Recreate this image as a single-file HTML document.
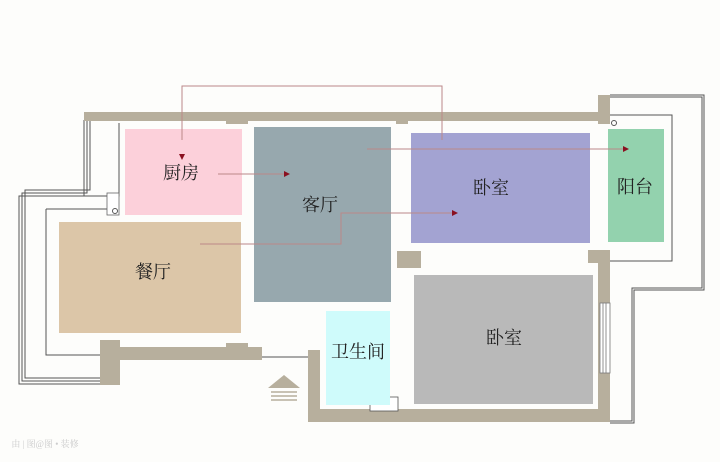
<!DOCTYPE html>
<html><head><meta charset="utf-8"><style>
html,body{margin:0;padding:0;background:#fdfdfb;}
svg{display:block}
text{font-family:"Liberation Serif","Noto Serif CJK SC",serif;font-size:18px;fill:#222;text-anchor:middle;dominant-baseline:central}
</style></head><body>
<svg width="720" height="462" viewBox="0 0 720 462">
<rect width="720" height="462" fill="#fdfdfb"/>
<!-- outer thin lines -->
<g fill="none" stroke="#555" stroke-width="1">
<path d="M84 120 V196 H19 V384 H100"/>
<path d="M87 120 V193 H22 V381 H100"/>
<path d="M90 120 V190 H25 V378 H100"/>
<path d="M119 123 V196 H84"/>
<path d="M46 209 V355 H100"/>
<path d="M110 209 H46"/>
<path d="M610 95 H704 V290 H634 V423 H610"/>
<path d="M610 97 H702 V288 H632 V421 H610"/>
<path d="M610 115 H672 V261 H610"/>
<path d="M262 357 H308"/>
</g>
<!-- walls -->
<g fill="#b7af9d">
<rect x="84" y="112" width="520" height="9"/>
<rect x="226" y="118" width="22" height="6"/>
<rect x="396" y="118" width="12" height="6"/>
<rect x="598" y="95" width="12" height="29"/>
<rect x="100" y="340" width="20" height="45"/>
<rect x="100" y="347" width="162" height="13"/>
<rect x="226" y="343" width="22" height="6"/>
<rect x="308" y="350" width="12" height="72"/>
<rect x="308" y="409" width="302" height="13"/>
<rect x="598" y="250" width="12" height="172"/>
<rect x="588" y="250" width="22" height="13"/>
<rect x="397" y="251" width="24" height="17"/>
</g>
<rect x="600" y="303" width="10" height="70" fill="#fff" stroke="#777" stroke-width="0.8"/>
<line x1="603" y1="303" x2="603" y2="373" stroke="#777" stroke-width="0.8"/>
<line x1="606" y1="303" x2="606" y2="373" stroke="#777" stroke-width="0.8"/>
<rect x="107" y="193" width="12" height="22" fill="#fff" stroke="#666" stroke-width="0.8"/>
<circle cx="115" cy="211" r="2.5" fill="none" stroke="#555"/>
<circle cx="614" cy="123" r="2.5" fill="none" stroke="#555"/>
<rect x="370" y="397" width="28" height="14" fill="#fff" stroke="#555" stroke-width="0.8"/>
<!-- rooms -->
<rect x="125" y="129" width="117" height="86" fill="#fcd0da"/>
<rect x="254" y="127" width="137" height="175" fill="#97a8ae"/>
<rect x="411" y="133" width="179" height="110" fill="#a3a3d2"/>
<rect x="608" y="129" width="56" height="113" fill="#93d2ae"/>
<rect x="59" y="222" width="182" height="111" fill="#dcc6a8"/>
<rect x="326" y="311" width="64" height="94" fill="#cffbfb"/>
<rect x="414" y="275" width="179" height="129" fill="#b9b9b9"/>
<!-- labels -->
<text x="181" y="173">厨房</text>
<text x="320" y="205">客厅</text>
<text x="491" y="188">卧室</text>
<text x="635" y="187">阳台</text>
<text x="153" y="272">餐厅</text>
<text x="358" y="352">卫生间</text>
<text x="504" y="338">卧室</text>
<!-- connectors -->
<g fill="none" stroke="#b88" stroke-width="1">
<path d="M182 140 V86 H442 V140"/>
<path d="M218 174 H284"/>
<path d="M367 149 H626"/>
<path d="M200 244 H341 V213 H453"/>
</g>
<g fill="#8a1020">
<polygon points="179,154 185,154 182,160"/>
<polygon points="284,171 290,174 284,177"/>
<polygon points="623,146 629,149 623,152"/>
<polygon points="452,210 458,213 452,216"/>
</g>
<!-- stairs -->
<polygon points="268,388 284,375 300,388" fill="#b7af9d"/>
<g stroke="#b7af9d" stroke-width="1.5"><line x1="271" y1="392" x2="297" y2="392"/><line x1="271" y1="396" x2="297" y2="396"/><line x1="271" y1="400" x2="297" y2="400"/></g>
<text x="45" y="444" style="font-size:9px;fill:#ccc">由 | 图@图 • 装修</text>
</svg>
</body></html>
